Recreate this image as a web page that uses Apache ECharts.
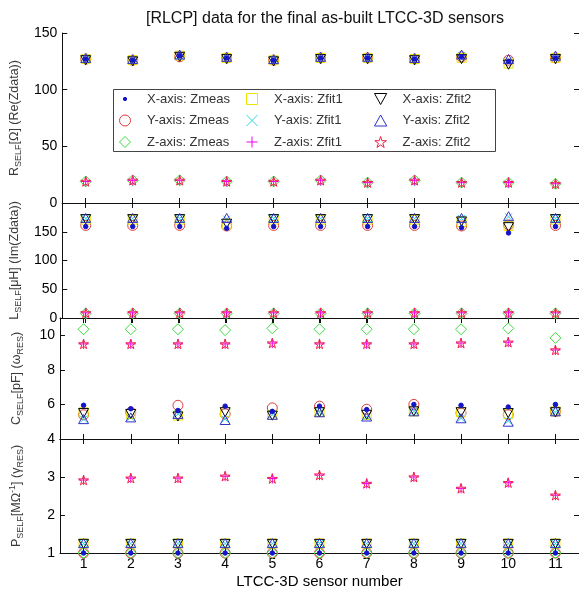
<!DOCTYPE html>
<html><head><meta charset="utf-8">
<script src="https://cdn.jsdelivr.net/npm/echarts@6/dist/echarts.min.js"></script>
<style>html,body{margin:0;padding:0;background:#fff}#c{width:579px;height:592px}</style>
</head><body><div id="c"></div>
<script>
// ---------------- DATA ----------------
const sensors = ['1','2','3','4','5','6','7','8','9','10','11'];
const seriesNames = ['X-axis: Zmeas','Y-axis: Zmeas','Z-axis: Zmeas',
                     'X-axis: Zfit1','Y-axis: Zfit1','Z-axis: Zfit1',
                     'X-axis: Zfit2','Y-axis: Zfit2','Z-axis: Zfit2'];

// Panel 1: R_SELF [Ohm]
const R_Xmeas = [127,126,130,128,126,128,128,127,129,125,128];
const R_Ymeas = [127,126,129,128,126,128,128,127,129,126,128];
const R_Zmeas = [19,20,20,19,19,20,18,20,18,18,17];
const R_Xfit1 = [127,126,130,128,126,128,128,127,128,123,128];
const R_Yfit1 = [127,126,130,128,126,128,128,127,130,126,128];
const R_Zfit1 = [19,20,20,19,19,20,18,20,18,18,17];
const R_Xfit2 = [126,125,129,127,125,127,127,126,127,122,127];
const R_Yfit2 = [128,127,131,129,127,129,129,128,131,127,130];
const R_Zfit2 = [19,20,20,19,19,20,18,20,18,18,17];

// Panel 2: L_SELF [uH]
const L_Xmeas = [159,159,159,156,159,159,159,159,157,148,159];
const L_Ymeas = [161,161,161,160,161,161,161,161,160,162,161];
const L_Zmeas = [8,8,8,8,8,8,8,8,8,8,8];
const L_Xfit1 = [171,171,171,163,171,171,171,171,167,160,171];
const L_Yfit1 = [173,173,173,172,173,173,173,173,173,176,173];
const L_Zfit1 = [9,9,9,9,9,9,9,9,9,9,9];
const L_Xfit2 = [172,172,172,164,172,172,172,172,168,158,172];
const L_Yfit2 = [174,174,174,174,174,174,174,174,174,177,174];
const L_Zfit2 = [9,9,9,9,9,9,9,9,9,9,9];

// Panel 3: C_SELF [pF]
const C_Xmeas = [5.95,5.75,5.65,5.9,5.6,5.9,5.7,6.0,5.95,5.85,6.0];
const C_Ymeas = [5.4,5.55,5.95,5.45,5.8,5.9,5.72,6.0,5.5,5.4,5.6];
const C_Zmeas = [10.35,10.35,10.35,10.3,10.4,10.35,10.35,10.35,10.35,10.4,9.85];
const C_Xfit1 = [5.55,5.45,5.35,5.55,5.4,5.55,5.4,5.6,5.55,5.45,5.6];
const C_Yfit1 = [5.15,5.25,5.45,5.15,5.4,5.55,5.3,5.6,5.2,5.05,5.55];
const C_Zfit1 = [9.5,9.5,9.5,9.5,9.55,9.5,9.5,9.5,9.55,9.6,9.15];
const C_Xfit2 = [5.5,5.45,5.3,5.55,5.35,5.55,5.4,5.6,5.55,5.5,5.55];
const C_Yfit2 = [5.15,5.25,5.45,5.1,5.4,5.55,5.3,5.6,5.2,5.0,5.6];
const C_Zfit2 = [9.5,9.5,9.5,9.5,9.55,9.5,9.5,9.5,9.55,9.6,9.15];

// Panel 4: P_SELF [MOhm^-1]
const P_Xmeas = [1,1,1,1,1,1,1,1,1,1,1];
const P_Ymeas = [1,1,1,1,1,1,1,1,1,1,1];
const P_Zmeas = [1,1,1,1,1,1,1,1,1,1,1];
const P_Xfit1 = [1.25,1.25,1.25,1.25,1.25,1.25,1.25,1.25,1.25,1.25,1.25];
const P_Yfit1 = [1.25,1.25,1.25,1.25,1.25,1.25,1.25,1.25,1.25,1.25,1.25];
const P_Zfit1 = [2.92,2.97,2.97,3.02,2.96,3.05,2.83,3.0,2.7,2.85,2.52];
const P_Xfit2 = [1.24,1.24,1.24,1.24,1.24,1.24,1.24,1.24,1.24,1.24,1.24];
const P_Yfit2 = [1.26,1.26,1.26,1.26,1.26,1.26,1.26,1.26,1.26,1.26,1.26];
const P_Zfit2 = [2.92,2.97,2.97,3.02,2.96,3.05,2.83,3.0,2.7,2.85,2.52];

// Axis ticks
const rTicks = [0,50,100,150];
const lTicks = [0,50,100,150,200];
const cTicks = [4,6,8,10];
const pTicks = [1,2,3,4];

// ---------------- STYLE / LAYOUT ----------------
const FONT = 'Liberation Sans, Arial, Helvetica, sans-serif';
const SYM = {
  dot: 'path://M0,0M20,20M10,7A3,3 0 1 1 10,13A3,3 0 1 1 10,7Z',
  circle: 'path://M10,0A10,10 0 1 1 10,20A10,10 0 1 1 10,0Z',
  diamond: 'path://M10,0L20,10L10,20L0,10Z',
  square: 'path://M0,0L20,0L20,20L0,20Z',
  cross: 'path://M0,0L20,20M20,0L0,20',
  plus: 'path://M10,0L10,20M0,10L20,10',
  triDown: 'path://M0,0L20,0L10,18Z',
  triUp: 'path://M10,0L20,18L0,18Z',
  star: 'path://M10,0L12.245,6.91L19.51,6.91L13.633,11.18L15.878,18.09L10,13.82L4.122,18.09L6.367,11.18L0.49,6.91L7.755,6.91Z'
};
const STY = [
  {sym: SYM.dot, size: 15, fill: '#1414c8', stroke: '#1414c8', z: 3},
  {sym: SYM.circle, size: 10, stroke: '#e03c3c'},
  {sym: SYM.diamond, size: 11, stroke: '#3cdc3c'},
  {sym: SYM.square, size: 9, stroke: '#eee400'},
  {sym: SYM.cross, size: 7, stroke: '#30d8e0'},
  {sym: SYM.plus, size: 10, stroke: '#f000f0'},
  {sym: SYM.triDown, size: 10, stroke: '#000000'},
  {sym: SYM.triUp, size: 10, stroke: '#3232c8'},
  {sym: SYM.star, size: 10, stroke: '#f01e46'}
];

const panels = [
  {top: 33, height: 170, ticks: rTicks, max: 150, hideMax: false,
   name: '{n|R}{s|SELF}{n|[Ω] (Re(Zdata))}',
   data: [R_Xmeas,R_Ymeas,R_Zmeas,R_Xfit1,R_Yfit1,R_Zfit1,R_Xfit2,R_Yfit2,R_Zfit2]},
  {top: 203, height: 115, ticks: lTicks, max: 200, hideMax: true,
   name: '{n|L}{s|SELF}{n|[μH] (Im(Zdata))}',
   data: [L_Xmeas,L_Ymeas,L_Zmeas,L_Xfit1,L_Yfit1,L_Zfit1,L_Xfit2,L_Yfit2,L_Zfit2]},
  {top: 318, height: 121, ticks: cTicks, max: 11, hideMax: true,
   name: '{n|C}{s|SELF}{n|[pF] (ω}{s|RES}{n|)}',
   data: [C_Xmeas,C_Ymeas,C_Zmeas,C_Xfit1,C_Yfit1,C_Zfit1,C_Xfit2,C_Yfit2,C_Zfit2]},
  {top: 439, height: 114, ticks: pTicks, max: 4, hideMax: true,
   name: '{n|P}{s|SELF}{n|[MΩ}{p|-1}{n|] (γ}{s|RES}{n|)}',
   data: [P_Xmeas,P_Ymeas,P_Zmeas,P_Xfit1,P_Yfit1,P_Zfit1,P_Xfit2,P_Yfit2,P_Zfit2]}
];

const AX_LINE = {show: true, lineStyle: {color: '#111', width: 1}};
const grid = [], xAxis = [], yAxis = [], series = [];
const NAME_COLOR = '#3a3a3a';
const nameRich = {
  n: {fontSize: 12.5, lineHeight: 17, color: NAME_COLOR, fontFamily: FONT},
  s: {fontSize: 9, lineHeight: 8, verticalAlign: 'bottom', color: NAME_COLOR, fontFamily: FONT},
  p: {fontSize: 9, lineHeight: 8, verticalAlign: 'top', color: NAME_COLOR, fontFamily: FONT}
};

panels.forEach((p, g) => {
  grid.push({left: 60, width: 520, top: p.top, height: p.height, containLabel: false});
  const last = g === panels.length - 1;
  xAxis.push({
    type: 'category', data: sensors, gridIndex: g, position: 'bottom', boundaryGap: true,
    axisLine: AX_LINE, axisTick: {show: true, inside: true, length: 5, alignWithLabel: true, lineStyle: {color: '#111'}},
    axisLabel: {show: last, fontSize: 14, color: '#000', fontFamily: FONT, margin: 4},
    splitLine: {show: false},
    name: last ? 'LTCC-3D sensor number' : '', nameLocation: 'middle', nameGap: 21,
    nameTextStyle: {fontSize: 15, color: '#000', fontFamily: FONT}
  });
  xAxis.push({
    type: 'category', data: sensors, gridIndex: g, position: 'top', boundaryGap: true,
    axisLine: AX_LINE, axisTick: {show: true, inside: true, length: 5, alignWithLabel: true, lineStyle: {color: '#111'}},
    axisLabel: {show: false}, splitLine: {show: false}
  });
  const ymin = p.ticks[0], yint = p.ticks[1] - p.ticks[0];
  yAxis.push({
    type: 'value', gridIndex: g, position: 'left', min: ymin, max: p.max, interval: yint,
    axisLine: AX_LINE, axisTick: {show: true, inside: true, length: 5, lineStyle: {color: '#111'}},
    axisLabel: {fontSize: 14, color: '#000', fontFamily: FONT, margin: 5, showMaxLabel: !p.hideMax, showMinLabel: true},
    splitLine: {show: false},
    name: p.name, nameLocation: 'middle', nameGap: 35, nameRotate: 90,
    nameTextStyle: {rich: nameRich}
  });
  yAxis.push({
    type: 'value', gridIndex: g, position: 'right', min: ymin, max: p.max, interval: yint,
    axisLine: AX_LINE, axisTick: {show: true, inside: true, length: 5, lineStyle: {color: '#111'}},
    axisLabel: {show: false}, splitLine: {show: false}
  });
  p.data.forEach((arr, i) => {
    const st = STY[i];
    series.push({
      type: 'scatter', name: seriesNames[i], xAxisIndex: 2 * g, yAxisIndex: 2 * g,
      data: arr, symbol: st.sym, symbolSize: st.size, symbolKeepAspect: true,
      z: st.z || 2, clip: false,
      itemStyle: {color: st.fill || 'rgba(0,0,0,0)', borderColor: st.stroke, borderWidth: 1, opacity: 1},
      emphasis: {disabled: true}
    });
  });
});

const legendLeft = [119, 246, 374];
const legend = [0, 1, 2].map(c => ({
  data: [seriesNames[c * 3], seriesNames[c * 3 + 1], seriesNames[c * 3 + 2]],
  orient: 'vertical', left: legendLeft[c], top: 92, padding: 0,
  itemWidth: 34, itemHeight: 11, itemGap: 7.5, symbolKeepAspect: true,
  textStyle: {fontSize: 13, color: '#333', fontFamily: FONT, lineHeight: 14},
  itemStyle: {borderWidth: 1},
  selectedMode: false, z: 10
}));

const chart = echarts.init(document.getElementById('c'), null, {renderer: 'canvas'});
chart.setOption({
  animation: false,
  backgroundColor: '#fff',
  title: {text: '[RLCP] data for the final as-built LTCC-3D sensors', left: 320, textAlign: 'center', top: 6,
          textStyle: {fontSize: 16, fontWeight: 'normal', color: '#111', fontFamily: FONT}},
  grid, xAxis, yAxis, series, legend,
  graphic: [{type: 'rect', z: 5, shape: {x: 113.5, y: 89.5, width: 382, height: 62},
             style: {fill: '#fff', stroke: '#444', lineWidth: 1}}]
});
</script></body></html>
